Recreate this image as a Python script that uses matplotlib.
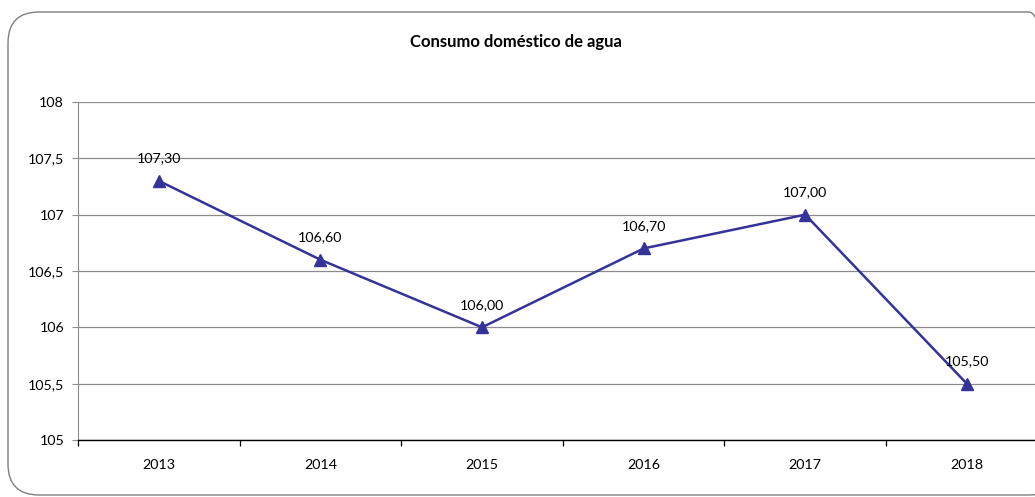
import matplotlib
matplotlib.use("Agg")
import matplotlib.pyplot as plt
from matplotlib.patches import FancyBboxPatch
from matplotlib.ticker import FixedLocator, FuncFormatter

years = ["2013", "2014", "2015", "2016", "2017", "2018"]
consumo = [107.30, 106.60, 106.00, 106.70, 107.00, 105.50]
y_ticks = [105, 105.5, 106, 106.5, 107, 107.5, 108]
title = "Consumo doméstico de agua"

plt.rcParams['font.family'] = ['Lato', 'DejaVu Sans']

W, H = 1035, 497
fig = plt.figure(figsize=(W / 100, H / 100), dpi=100)

# rounded outer frame
frame = FancyBboxPatch((8 / W, 2 / H), (1060 - 8) / W, (485 - 2) / H,
                       boxstyle="round,pad=0,rounding_size=0.03",
                       transform=fig.transFigure, facecolor="none",
                       edgecolor="#7f7f7f", linewidth=1.0, mutation_aspect=W / H,
                       zorder=-1)
fig.patches.append(frame)

ax_left = 78 / W
ax_w = 6 * 161.6 / W
ax_bottom = 1 - 440 / H
ax_h = (440 - 102) / H
ax = fig.add_axes([ax_left, ax_bottom, ax_w, ax_h])
ax.patch.set_alpha(0)

x = list(range(len(years)))
ax.plot(x, consumo, color="#333399", linewidth=1.8, marker="^",
        markersize=9, markerfacecolor="#333399", markeredgecolor="#333399", zorder=3)

for xi, v in zip(x, consumo):
    ax.annotate(f"{v:.2f}".replace(".", ","), (xi, v), xytext=(0, 12),
                textcoords="offset points", ha="center", va="bottom",
                fontsize=10.3, color="#000000")

ax.set_xlim(-0.5, len(years) - 0.5)
ax.set_ylim(105, 108)
ax.yaxis.set_major_locator(FixedLocator(y_ticks))
ax.yaxis.set_major_formatter(FuncFormatter(lambda v, p: f"{v:g}".replace(".", ",")))
ax.grid(axis="y", color="#8c8c8c", linewidth=0.9)
ax.set_axisbelow(True)

ax.set_xticks([i - 0.5 for i in range(len(years) + 1)], minor=False)
ax.set_xticklabels([])
ax.set_xticks(x, minor=True)
ax.set_xticklabels(years, minor=True)
ax.tick_params(axis="x", which="major", direction="out", length=4, color="#000000", width=0.9)
ax.tick_params(axis="x", which="minor", length=0, pad=14, labelsize=10.3)
ax.tick_params(axis="y", direction="out", length=4, color="#8c8c8c", labelsize=10.3, pad=6)

for s in ["top", "right"]:
    ax.spines[s].set_visible(False)
ax.spines["left"].set_color("#8c8c8c")
ax.spines["bottom"].set_color("#000000")
ax.spines["bottom"].set_linewidth(1.0)

fig.text(516 / W, 1 - 42 / H, title, ha="center", va="center",
         fontsize=12, fontweight="bold")

fig.savefig("out.png", dpi=100)
